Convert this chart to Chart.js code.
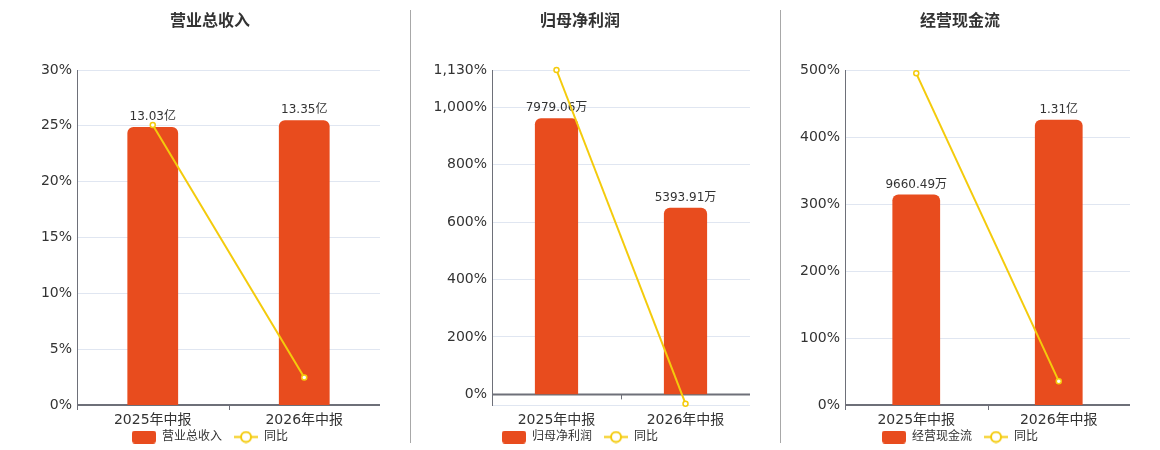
<!DOCTYPE html>
<html>
<head>
<meta charset="utf-8">
<script src="https://cdn.jsdelivr.net/npm/chart.js@4/dist/chart.umd.min.js"></script>
<style>
  html, body { margin: 0; padding: 0; background: #fff; }
  #wrap { position: relative; width: 1160px; height: 450px; overflow: hidden; }
  .pane { position: absolute; top: 0; width: 340px; height: 450px; }
  .sep { position: absolute; top: 10px; width: 1px; height: 433px; background: #a8a8a8; z-index: 5; }
</style>
</head>
<body>
<div id="wrap">
  <div class="pane" style="left:40px"><canvas id="c1"></canvas></div>
  <div class="pane" style="left:410px"><canvas id="c2"></canvas></div>
  <div class="pane" style="left:790px"><canvas id="c3"></canvas></div>
  <div class="sep" style="left:410px"></div>
  <div class="sep" style="left:780px"></div>
</div>
<script>
// ---------- data ----------
const categories = ['2025年中报', '2026年中报'];

const revenueTitle = '营业总收入';
const revenueValues = [13.03, 13.35];          // 亿
const revenueLabels = ['13.03亿', '13.35亿'];
const revenueYoY = [25.07, 2.46];              // %
const revenueTicks = [0, 5, 10, 15, 20, 25, 30];

const profitTitle = '归母净利润';
const profitValues = [7979.06, 5393.91];       // 万
const profitLabels = ['7979.06万', '5393.91万'];
const profitYoY = [1130, -32.4];               // %
const profitTicks = [0, 200, 400, 600, 800, 1000, 1130];

const cashTitle = '经营现金流';
const cashValues = [9660.49, 13100];           // 万
const cashLabels = ['9660.49万', '1.31亿'];
const cashYoY = [495, 35.6];                   // %
const cashTicks = [0, 100, 200, 300, 400, 500];

const yoyName = '同比';

// ---------- style ----------
const FONT = "'DejaVu Sans', 'Noto Sans CJK SC', sans-serif";
const BAR_COLOR = '#e84c1e';
const LINE_COLOR = '#f4cb0c';
const AXIS_COLOR = '#6e7079';
const GRID_COLOR = '#e0e6f1';
const TEXT_COLOR = '#333333';

function makeBarIcon() {
  const c = document.createElement('canvas');
  c.width = 24; c.height = 13;
  const g = c.getContext('2d');
  g.fillStyle = BAR_COLOR;
  g.beginPath();
  if (g.roundRect) g.roundRect(0, 0, 24, 13, 3); else g.rect(0, 0, 24, 13);
  g.fill();
  return c;
}
function makeLineIcon() {
  const c = document.createElement('canvas');
  c.width = 24; c.height = 13;
  const g = c.getContext('2d');
  g.strokeStyle = LINE_COLOR;
  g.lineWidth = 2;
  g.beginPath(); g.moveTo(0, 6.5); g.lineTo(24, 6.5); g.stroke();
  g.fillStyle = '#fff';
  g.beginPath(); g.arc(12, 6.5, 5, 0, Math.PI * 2); g.fill(); g.stroke();
  return c;
}
const barIcon = makeBarIcon();
const lineIcon = makeLineIcon();

const zeroAxisPlugin = {
  id: 'zeroAxis',
  afterLayout(chart) {
    // let the category labels overflow their (fixed-height) box without clipping
    chart.scales.x._computeLabelArea = function () { return undefined; };
  },
  beforeDatasetsDraw(chart) {
    const { ctx, chartArea, scales } = chart;
    const y0 = scales.y.getPixelForValue(0);
    const n = chart.data.labels.length;
    ctx.save();
    ctx.strokeStyle = AXIS_COLOR;
    ctx.lineWidth = 1;
    for (let i = 0; i <= n; i++) {
      const px = Math.round(chartArea.left + (chartArea.right - chartArea.left) * i / n) + 0.5;
      ctx.beginPath(); ctx.moveTo(px, y0); ctx.lineTo(px, y0 + 5); ctx.stroke();
    }
    ctx.lineWidth = 2;
    ctx.beginPath(); ctx.moveTo(chartArea.left, y0); ctx.lineTo(chartArea.right, y0); ctx.stroke();
    ctx.restore();
  },
  afterDatasetDraw(chart, args) {
    if (args.index !== 0) return;
    const labels = chart.options.plugins.zeroAxis.labels;
    const { ctx } = chart;
    const meta = chart.getDatasetMeta(0);
    ctx.save();
    ctx.font = '12px ' + FONT;
    ctx.fillStyle = TEXT_COLOR;
    ctx.textAlign = 'center';
    ctx.textBaseline = 'bottom';
    meta.data.forEach((el, i) => { ctx.fillText(labels[i], el.x, el.y - 4); });
    ctx.restore();
  }
};

function pct(v) { return v.toLocaleString('en-US') + '%'; }

function build(id, title, values, labels, yoy, ticks, yMin, yMax, y1Min, y1Max, axisWidth) {
  const tickList = yMin < ticks[0] ? [yMin].concat(ticks) : ticks.slice();
  new Chart(document.getElementById(id), {
    data: {
      labels: categories,
      datasets: [
        {
          type: 'bar', label: title, data: values, yAxisID: 'y1', order: 1,
          backgroundColor: BAR_COLOR,
          borderRadius: { topLeft: 6, topRight: 6, bottomLeft: 0, bottomRight: 0 },
          borderSkipped: 'start',
          barPercentage: 0.335, categoryPercentage: 1
        },
        {
          type: 'line', label: yoyName, data: yoy, yAxisID: 'y', order: 0,
          borderColor: LINE_COLOR, borderWidth: 2,
          pointRadius: 2.5, pointBorderWidth: 1.5,
          pointBackgroundColor: '#fff', pointBorderColor: LINE_COLOR,
          tension: 0, clip: false
        }
      ]
    },
    options: {
      responsive: false,
      animation: false,
      devicePixelRatio: 1,
      layout: { autoPadding: false, padding: { top: 0, left: 0, right: 0, bottom: -3 } },
      scales: {
        x: {
          type: 'category',
          offset: true,
          grid: { display: true, drawOnChartArea: false, drawTicks: true, tickLength: 5, color: 'transparent', offset: true },
          border: { display: false },
          ticks: { color: TEXT_COLOR, font: { size: 14, family: FONT }, padding: 2, maxRotation: 0 },
          afterFit(s) { s.height = 14; s.paddingLeft = 0; s.paddingRight = 0; }
        },
        y: {
          position: 'left',
          min: yMin, max: yMax,
          grid: { color: GRID_COLOR, drawTicks: false, lineWidth: 1 },
          border: { display: true, color: AXIS_COLOR, width: 1 },
          ticks: {
            color: TEXT_COLOR, font: { size: 14, family: FONT }, padding: 5,
            callback(v) { return ticks.indexOf(v) >= 0 ? pct(v) : ''; }
          },
          afterBuildTicks(s) { s.ticks = tickList.map(v => ({ value: v })); },
          afterFit(s) { s.width = axisWidth; }
        },
        y1: {
          display: false, min: y1Min, max: y1Max, grid: { display: false }
        }
      },
      plugins: {
        title: {
          display: true, text: title, color: TEXT_COLOR,
          font: { size: 16, weight: 'bold', family: FONT },
          padding: { top: 12, bottom: 38.8 }
        },
        legend: {
          position: 'bottom',
          labels: {
            usePointStyle: true, pointStyleWidth: 24, padding: 12,
            color: TEXT_COLOR, font: { size: 12, family: FONT },
            generateLabels(chart) {
              return chart.data.datasets.map((d, i) => ({
                text: d.label, pointStyle: i === 0 ? barIcon : lineIcon,
                fillStyle: 'transparent', strokeStyle: 'transparent', lineWidth: 0,
                datasetIndex: i, hidden: false, fontColor: TEXT_COLOR
              }));
            }
          }
        },
        tooltip: { enabled: false },
        zeroAxis: { labels: labels }
      }
    },
    plugins: [zeroAxisPlugin]
  });
}

['c1', 'c2', 'c3'].forEach(id => {
  const c = document.getElementById(id);
  c.width = 340; c.height = 450;
  c.style.width = '340px'; c.style.height = '450px';
});

build('c1', revenueTitle, revenueValues, revenueLabels, revenueYoY, revenueTicks, 0, 30, 0, 15.7, 37);
build('c2', profitTitle, profitValues, profitLabels, profitYoY, profitTicks, -37, 1130, -308, 9375, 82);
build('c3', cashTitle, cashValues, cashLabels, cashYoY, cashTicks, 0, 500, 0, 15380, 55);
</script>
</body>
</html>
